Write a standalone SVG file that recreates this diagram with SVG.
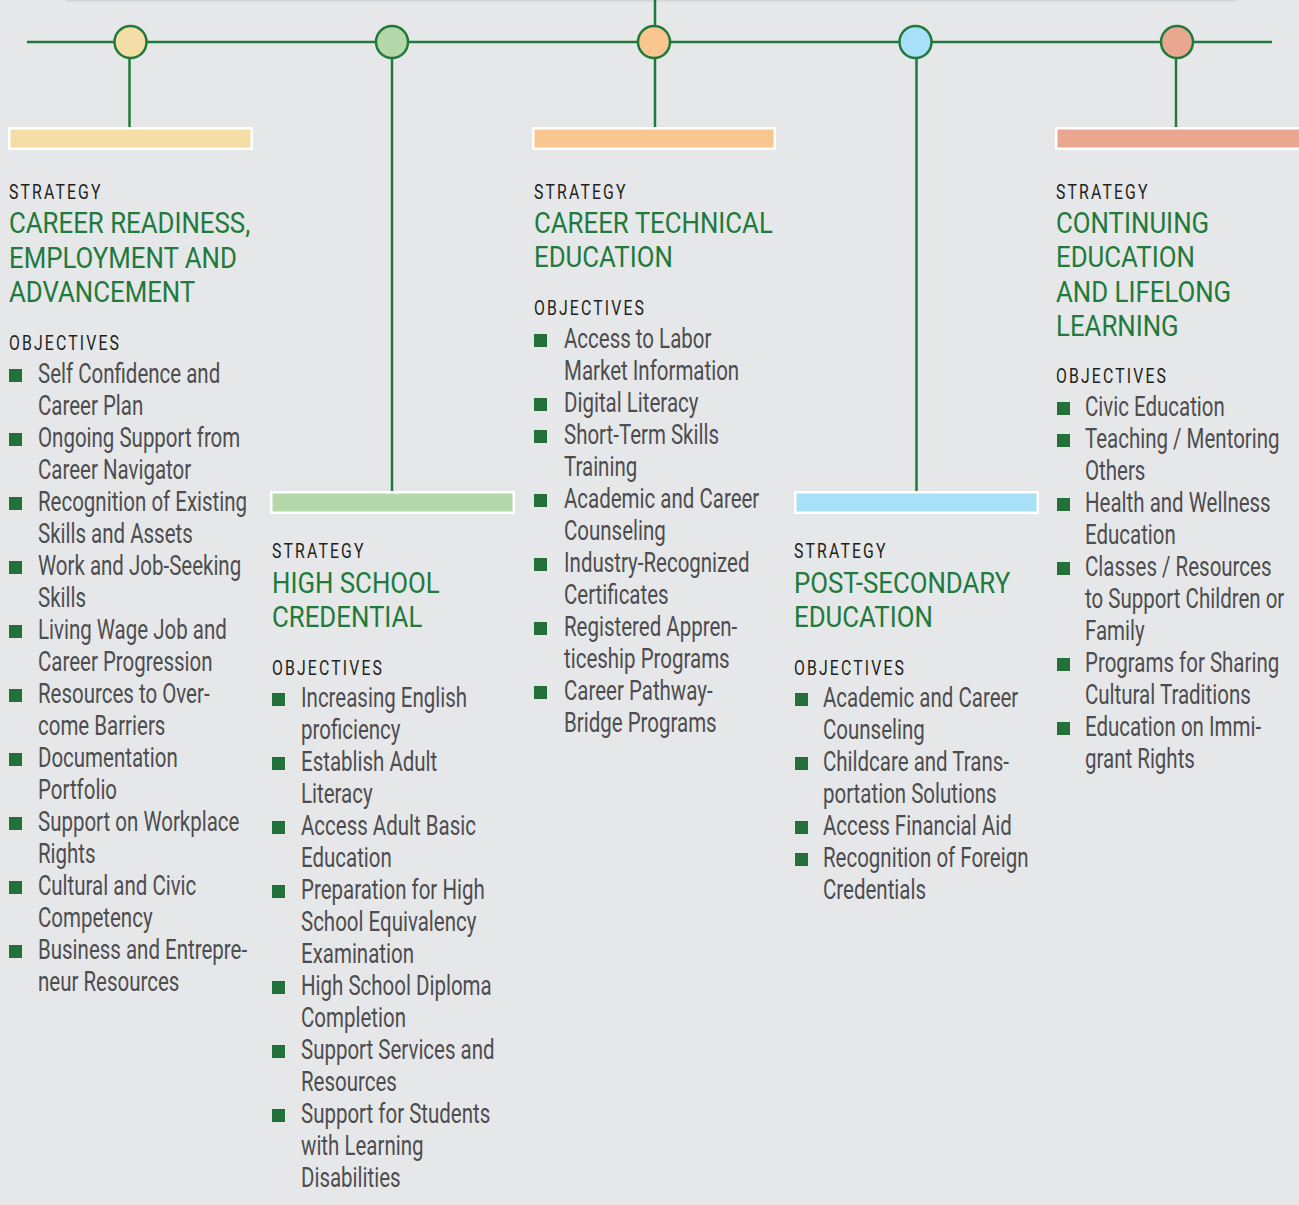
<svg xmlns="http://www.w3.org/2000/svg" width="1299" height="1205" viewBox="0 0 1299 1205">
<style>
.lbl{font-family:Roboto,"Liberation Sans",sans-serif;font-size:20.5px;letter-spacing:2.8px;fill:#231f20}
.ttl{font-family:Roboto,"Liberation Sans",sans-serif;font-size:29px;font-weight:400;fill:#217a3c}
.obj{font-family:Roboto,"Liberation Sans",sans-serif;font-size:27.5px;fill:#4d4d4f}
.bul{fill:#23703b}
.bar{stroke:#ffffff;stroke-width:2.5}
.dot{stroke:#217a3c;stroke-width:2.5}
.ln{stroke:#217a3c;stroke-width:2.5;fill:none}
</style>
<rect width="1299" height="1205" fill="#e6e7e9"/>
<line x1="66" y1="0.5" x2="1237" y2="0.5" stroke="#d2d4d7" stroke-width="2"/>

<g id="connectors">
<line class="ln" x1="27" y1="42" x2="1272" y2="42"/>
<line class="ln" x1="129.5" y1="58" x2="129.5" y2="127"/>
<line class="ln" x1="392" y1="58" x2="392" y2="491"/>
<line class="ln" x1="655" y1="0" x2="655" y2="26"/>
<line class="ln" x1="655" y1="58" x2="655" y2="127"/>
<line class="ln" x1="916.5" y1="58" x2="916.5" y2="491"/>
<line class="ln" x1="1176" y1="58" x2="1176" y2="127"/>
</g>

<g id="node-career-readiness">
<circle class="dot" cx="130.5" cy="42" r="16" fill="#f5dda6"/>
<rect class="bar" x="9.25" y="128.25" width="242.5" height="20.5" fill="#f5dda6"/>
<g transform="translate(9,0) scale(0.77,1)">
<text class="lbl" x="0" y="199">STRATEGY</text>
<text class="lbl" x="0" y="350">OBJECTIVES</text>
</g>
<g transform="translate(9,0) scale(0.89,1)">
<text class="ttl" x="0" y="233">CAREER READINESS,</text>
<text class="ttl" x="0" y="268">EMPLOYMENT AND</text>
<text class="ttl" x="0" y="302.5">ADVANCEMENT</text>
</g>
<g class="bul">
<rect x="9" y="369" width="13" height="13"/>
<rect x="9" y="433" width="13" height="13"/>
<rect x="9" y="497" width="13" height="13"/>
<rect x="9" y="561" width="13" height="13"/>
<rect x="9" y="625" width="13" height="13"/>
<rect x="9" y="689" width="13" height="13"/>
<rect x="9" y="753" width="13" height="13"/>
<rect x="9" y="817" width="13" height="13"/>
<rect x="9" y="881" width="13" height="13"/>
<rect x="9" y="945" width="13" height="13"/>
</g>
<g transform="translate(38,0) scale(0.745,1)">
<text class="obj" x="0" y="383">Self Confidence and</text>
<text class="obj" x="0" y="415">Career Plan</text>
<text class="obj" x="0" y="447">Ongoing Support from</text>
<text class="obj" x="0" y="479">Career Navigator</text>
<text class="obj" x="0" y="511">Recognition of Existing</text>
<text class="obj" x="0" y="543">Skills and Assets</text>
<text class="obj" x="0" y="575">Work and Job-Seeking</text>
<text class="obj" x="0" y="607">Skills</text>
<text class="obj" x="0" y="639">Living Wage Job and</text>
<text class="obj" x="0" y="671">Career Progression</text>
<text class="obj" x="0" y="703">Resources to Over-</text>
<text class="obj" x="0" y="735">come Barriers</text>
<text class="obj" x="0" y="767">Documentation</text>
<text class="obj" x="0" y="799">Portfolio</text>
<text class="obj" x="0" y="831">Support on Workplace</text>
<text class="obj" x="0" y="863">Rights</text>
<text class="obj" x="0" y="895">Cultural and Civic</text>
<text class="obj" x="0" y="927">Competency</text>
<text class="obj" x="0" y="959">Business and Entrepre-</text>
<text class="obj" x="0" y="991">neur Resources</text>
</g>
</g>

<g id="node-high-school">
<circle class="dot" cx="392" cy="42" r="16" fill="#b5d8ab"/>
<rect class="bar" x="271.25" y="492.25" width="242.5" height="20.5" fill="#b5d8ab"/>
<g transform="translate(272,0) scale(0.77,1)">
<text class="lbl" x="0" y="558">STRATEGY</text>
<text class="lbl" x="0" y="675">OBJECTIVES</text>
</g>
<g transform="translate(272,0) scale(0.89,1)">
<text class="ttl" x="0" y="593">HIGH SCHOOL</text>
<text class="ttl" x="0" y="627">CREDENTIAL</text>
</g>
<g class="bul">
<rect x="272" y="693" width="13" height="13"/>
<rect x="272" y="757" width="13" height="13"/>
<rect x="272" y="821" width="13" height="13"/>
<rect x="272" y="885" width="13" height="13"/>
<rect x="272" y="981" width="13" height="13"/>
<rect x="272" y="1045" width="13" height="13"/>
<rect x="272" y="1109" width="13" height="13"/>
</g>
<g transform="translate(301,0) scale(0.745,1)">
<text class="obj" x="0" y="707">Increasing English</text>
<text class="obj" x="0" y="739">proficiency</text>
<text class="obj" x="0" y="771">Establish Adult</text>
<text class="obj" x="0" y="803">Literacy</text>
<text class="obj" x="0" y="835">Access Adult Basic</text>
<text class="obj" x="0" y="867">Education</text>
<text class="obj" x="0" y="899">Preparation for High</text>
<text class="obj" x="0" y="931">School Equivalency</text>
<text class="obj" x="0" y="963">Examination</text>
<text class="obj" x="0" y="995">High School Diploma</text>
<text class="obj" x="0" y="1027">Completion</text>
<text class="obj" x="0" y="1059">Support Services and</text>
<text class="obj" x="0" y="1091">Resources</text>
<text class="obj" x="0" y="1123">Support for Students</text>
<text class="obj" x="0" y="1155">with Learning</text>
<text class="obj" x="0" y="1187">Disabilities</text>
</g>
</g>

<g id="node-career-technical">
<circle class="dot" cx="654" cy="42" r="16" fill="#f9c690"/>
<rect class="bar" x="533.25" y="128.25" width="241.5" height="20.5" fill="#f9c690"/>
<g transform="translate(534,0) scale(0.77,1)">
<text class="lbl" x="0" y="199">STRATEGY</text>
<text class="lbl" x="0" y="315.5">OBJECTIVES</text>
</g>
<g transform="translate(534,0) scale(0.89,1)">
<text class="ttl" x="0" y="233">CAREER TECHNICAL</text>
<text class="ttl" x="0" y="267.5">EDUCATION</text>
</g>
<g class="bul">
<rect x="534" y="334" width="13" height="13"/>
<rect x="534" y="398" width="13" height="13"/>
<rect x="534" y="430" width="13" height="13"/>
<rect x="534" y="494" width="13" height="13"/>
<rect x="534" y="558" width="13" height="13"/>
<rect x="534" y="622" width="13" height="13"/>
<rect x="534" y="686" width="13" height="13"/>
</g>
<g transform="translate(564,0) scale(0.745,1)">
<text class="obj" x="0" y="348">Access to Labor</text>
<text class="obj" x="0" y="380">Market Information</text>
<text class="obj" x="0" y="412">Digital Literacy</text>
<text class="obj" x="0" y="444">Short-Term Skills</text>
<text class="obj" x="0" y="476">Training</text>
<text class="obj" x="0" y="508">Academic and Career</text>
<text class="obj" x="0" y="540">Counseling</text>
<text class="obj" x="0" y="572">Industry-Recognized</text>
<text class="obj" x="0" y="604">Certificates</text>
<text class="obj" x="0" y="636">Registered Appren-</text>
<text class="obj" x="0" y="668">ticeship Programs</text>
<text class="obj" x="0" y="700">Career Pathway-</text>
<text class="obj" x="0" y="732">Bridge Programs</text>
</g>
</g>

<g id="node-post-secondary">
<circle class="dot" cx="915.5" cy="42" r="16" fill="#a9e0f9"/>
<rect class="bar" x="795.25" y="492.25" width="242.5" height="20.5" fill="#a9e0f9"/>
<g transform="translate(794,0) scale(0.77,1)">
<text class="lbl" x="0" y="558">STRATEGY</text>
<text class="lbl" x="0" y="675">OBJECTIVES</text>
</g>
<g transform="translate(794,0) scale(0.89,1)">
<text class="ttl" x="0" y="593">POST-SECONDARY</text>
<text class="ttl" x="0" y="627">EDUCATION</text>
</g>
<g class="bul">
<rect x="795" y="693" width="13" height="13"/>
<rect x="795" y="757" width="13" height="13"/>
<rect x="795" y="821" width="13" height="13"/>
<rect x="795" y="853" width="13" height="13"/>
</g>
<g transform="translate(823,0) scale(0.745,1)">
<text class="obj" x="0" y="707">Academic and Career</text>
<text class="obj" x="0" y="739">Counseling</text>
<text class="obj" x="0" y="771">Childcare and Trans-</text>
<text class="obj" x="0" y="803">portation Solutions</text>
<text class="obj" x="0" y="835">Access Financial Aid</text>
<text class="obj" x="0" y="867">Recognition of Foreign</text>
<text class="obj" x="0" y="899">Credentials</text>
</g>
</g>

<g id="node-continuing-education">
<circle class="dot" cx="1177" cy="42" r="16" fill="#eaa78f"/>
<rect class="bar" x="1056.25" y="128.25" width="244" height="20.5" fill="#eaa78f"/>
<g transform="translate(1056,0) scale(0.77,1)">
<text class="lbl" x="0" y="199">STRATEGY</text>
<text class="lbl" x="0" y="383.5">OBJECTIVES</text>
</g>
<g transform="translate(1056,0) scale(0.89,1)">
<text class="ttl" x="0" y="233">CONTINUING</text>
<text class="ttl" x="0" y="267.5">EDUCATION</text>
<text class="ttl" x="0" y="302">AND LIFELONG</text>
<text class="ttl" x="0" y="336.5">LEARNING</text>
</g>
<g class="bul">
<rect x="1057" y="402" width="13" height="13"/>
<rect x="1057" y="434" width="13" height="13"/>
<rect x="1057" y="498" width="13" height="13"/>
<rect x="1057" y="562" width="13" height="13"/>
<rect x="1057" y="658" width="13" height="13"/>
<rect x="1057" y="722" width="13" height="13"/>
</g>
<g transform="translate(1085,0) scale(0.745,1)">
<text class="obj" x="0" y="416">Civic Education</text>
<text class="obj" x="0" y="448">Teaching / Mentoring</text>
<text class="obj" x="0" y="480">Others</text>
<text class="obj" x="0" y="512">Health and Wellness</text>
<text class="obj" x="0" y="544">Education</text>
<text class="obj" x="0" y="576">Classes / Resources</text>
<text class="obj" x="0" y="608">to Support Children or</text>
<text class="obj" x="0" y="640">Family</text>
<text class="obj" x="0" y="672">Programs for Sharing</text>
<text class="obj" x="0" y="704">Cultural Traditions</text>
<text class="obj" x="0" y="736">Education on Immi-</text>
<text class="obj" x="0" y="768">grant Rights</text>
</g>
</g>
</svg>
